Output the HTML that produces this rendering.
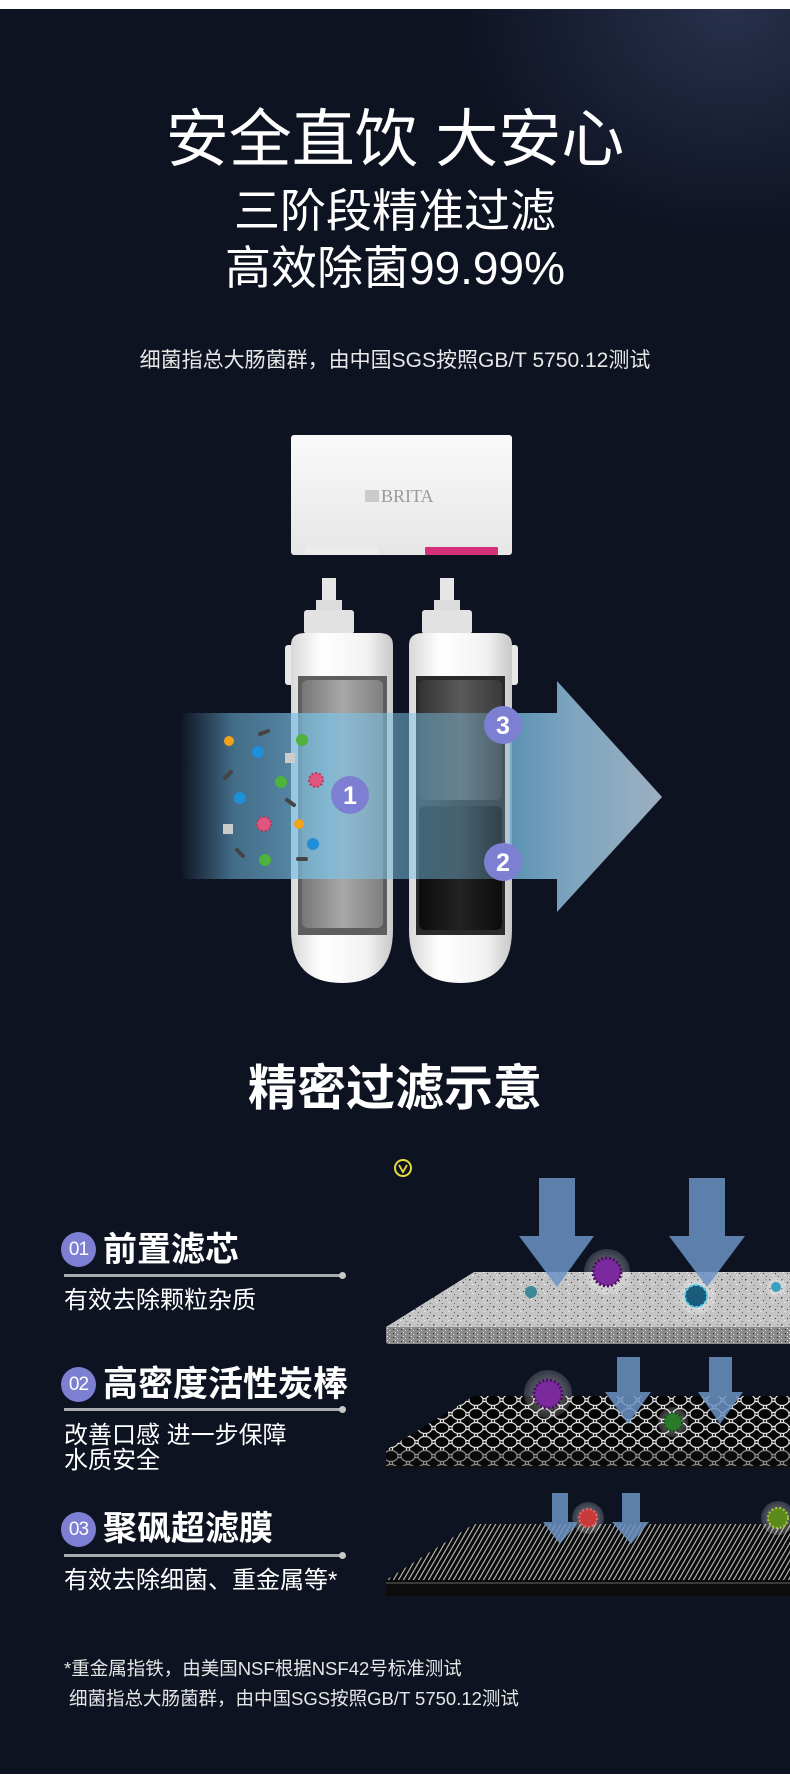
<!DOCTYPE html>
<html><head><meta charset="utf-8">
<style>
*{margin:0;padding:0;box-sizing:border-box}
html,body{width:790px;height:1777px;background:#fff;overflow:hidden}
#bg{position:absolute;left:0;top:9px;width:790px;height:1765px;background:#0e1322;overflow:hidden}
.t{position:absolute;color:#fff;font-family:"Liberation Sans","Noto Sans CJK SC",sans-serif;white-space:nowrap;line-height:1}
.c{left:0;width:790px;text-align:center}
.num{position:absolute;width:35px;height:35px;border-radius:50%;background:#7c7fd2;color:#fff;font-family:"Liberation Sans",sans-serif;font-size:19px;line-height:35px;text-align:center;letter-spacing:-1px}
.ttl{font-weight:bold;font-size:34px}
.sub{font-size:24px}
.ln{position:absolute;left:64px;width:279px;height:3px;background:#a9abb0}
.ln::after{content:"";position:absolute;right:-3px;top:-2px;width:7px;height:7px;border-radius:50%;background:#c8c8c8}
</style></head><body>
<div id="bg">
<div style="position:absolute;left:430px;top:-250px;width:600px;height:500px;background:radial-gradient(ellipse at center,rgba(60,72,110,0.55),rgba(14,19,34,0) 65%)"></div>
</div>
<div class="t c" style="top:109px;font-size:63px">安全直饮 大安心</div>
<div class="t c" style="top:188px;font-size:46px">三阶段精准过滤</div>
<div class="t c" style="top:245px;font-size:46px">高效除菌99.99%</div>
<div class="t c" style="top:350px;font-size:21px;color:#e8e8e8">细菌指总大肠菌群，由中国SGS按照GB/T 5750.12测试</div>

<svg style="position:absolute;left:0;top:0" width="790" height="1777" viewBox="0 0 790 1777">
<defs>
<linearGradient id="box" x1="0" y1="0" x2="0" y2="1"><stop offset="0" stop-color="#fafafa"/><stop offset="1" stop-color="#e6e6e6"/></linearGradient>
<linearGradient id="cyl" x1="0" y1="0" x2="1" y2="0"><stop offset="0" stop-color="#d8d8d8"/><stop offset="0.3" stop-color="#fff"/><stop offset="0.75" stop-color="#f2f2f2"/><stop offset="1" stop-color="#c8c8c8"/></linearGradient>
<linearGradient id="gcore" x1="0" y1="0" x2="1" y2="0"><stop offset="0" stop-color="#777"/><stop offset="0.5" stop-color="#a8a8a8"/><stop offset="1" stop-color="#808080"/></linearGradient>
<linearGradient id="dcore" x1="0" y1="0" x2="1" y2="0"><stop offset="0" stop-color="#333"/><stop offset="0.5" stop-color="#5a5a5a"/><stop offset="1" stop-color="#3a3a3a"/></linearGradient>
<linearGradient id="bcore" x1="0" y1="0" x2="1" y2="0"><stop offset="0" stop-color="#0c0c0c"/><stop offset="0.5" stop-color="#222"/><stop offset="1" stop-color="#0c0c0c"/></linearGradient>
<linearGradient id="band1" x1="0" y1="0" x2="1" y2="0"><stop offset="0" stop-color="#6fb6dc" stop-opacity="0"/><stop offset="0.35" stop-color="#6fb6dc" stop-opacity="0.55"/><stop offset="1" stop-color="#7cc3e6" stop-opacity="0.75"/></linearGradient>
<linearGradient id="band2" x1="0" y1="0" x2="1" y2="0"><stop offset="0" stop-color="#7cc3e6" stop-opacity="0.65"/><stop offset="0.6" stop-color="#7cc3e6" stop-opacity="0.45"/><stop offset="1" stop-color="#7cb0d0" stop-opacity="0.3"/></linearGradient>
<linearGradient id="arr" x1="0" y1="0" x2="1" y2="0"><stop offset="0" stop-color="#6aa8cc" stop-opacity="0.85"/><stop offset="0.4" stop-color="#7da4bf"/><stop offset="1" stop-color="#9db0c0"/></linearGradient>
<pattern id="noise" width="12" height="9" patternUnits="userSpaceOnUse">
<rect width="12" height="9" fill="#c4c4c4"/><rect x="1" y="1" width="1.5" height="1.5" fill="#555"/><rect x="7" y="4" width="1" height="1" fill="#333"/><rect x="4" y="6" width="1.5" height="1" fill="#eee"/><rect x="9" y="1" width="1" height="1" fill="#888"/><rect x="3" y="3" width="1" height="1" fill="#f5f5f5"/><rect x="10" y="7" width="1" height="1" fill="#666"/>
</pattern>
<pattern id="noise2" width="8" height="4" patternUnits="userSpaceOnUse">
<rect width="8" height="4" fill="#8a8a8a"/><rect x="1" y="1" width="1" height="1" fill="#222"/><rect x="5" y="2" width="1" height="1" fill="#ddd"/><rect x="3" y="0" width="1" height="1" fill="#eee"/></pattern>
<pattern id="hex" width="17" height="14" patternUnits="userSpaceOnUse">
<rect width="17" height="14" fill="#222"/><ellipse cx="8.5" cy="7" rx="7" ry="5.5" fill="#050505" stroke="#ddd" stroke-width="1.2"/><ellipse cx="0" cy="0" rx="7" ry="5.5" fill="#050505" stroke="#ddd" stroke-width="1.2"/><ellipse cx="17" cy="0" rx="7" ry="5.5" fill="#050505" stroke="#ddd" stroke-width="1.2"/><ellipse cx="0" cy="14" rx="7" ry="5.5" fill="#050505" stroke="#ddd" stroke-width="1.2"/><ellipse cx="17" cy="14" rx="7" ry="5.5" fill="#050505" stroke="#ddd" stroke-width="1.2"/>
</pattern>
<pattern id="str" width="5" height="10" patternUnits="userSpaceOnUse" patternTransform="skewX(-30)">
<rect width="5" height="10" fill="#0a0a0a"/><rect x="0" width="1.3" height="10" fill="#bbb"/></pattern>
<radialGradient id="halo"><stop offset="0" stop-color="#fff" stop-opacity="0.5"/><stop offset="1" stop-color="#fff" stop-opacity="0.15"/></radialGradient>
</defs>

<!-- BRITA box -->
<rect x="285" y="645" width="8" height="40" rx="3" fill="#e8e8e8"/>
<rect x="510" y="645" width="8" height="40" rx="3" fill="#e8e8e8"/>
<rect x="291" y="435" width="221" height="120" rx="3" fill="url(#box)"/>
<rect x="305" y="547" width="73" height="8" rx="2" fill="#ececec"/>
<rect x="425" y="547" width="73" height="8" rx="1" fill="#d4317a"/>
<rect x="365" y="490" width="14" height="12" fill="#bbb" opacity="0.7"/>
<text x="381" y="502" font-family="Liberation Serif,serif" font-size="18" fill="#9a9a9a">BRITA</text>

<!-- cylinders -->
<g>
<rect x="322" y="578" width="14" height="22" fill="#e6e6e6"/><rect x="316" y="600" width="26" height="10" fill="#dcdcdc"/><rect x="304" y="610" width="50" height="24" rx="3" fill="#e2e2e2"/>
<path d="M291 645 Q291 633 305 633 H379 Q393 633 393 645 V930 Q393 983 342 983 Q291 983 291 930 Z" fill="url(#cyl)"/>
<rect x="298" y="676" width="89" height="259" fill="#5e5e5e"/>
<rect x="302" y="680" width="81" height="248" rx="6" fill="url(#gcore)"/>
</g>
<g>
<rect x="440" y="578" width="14" height="22" fill="#e6e6e6"/><rect x="434" y="600" width="26" height="10" fill="#dcdcdc"/><rect x="422" y="610" width="50" height="24" rx="3" fill="#e2e2e2"/>
<path d="M409 645 Q409 633 423 633 H498 Q512 633 512 645 V930 Q512 983 460 983 Q409 983 409 930 Z" fill="url(#cyl)"/>
<rect x="416" y="676" width="89" height="259" fill="#2a2a2a"/>
<rect x="419" y="680" width="83" height="120" rx="6" fill="url(#dcore)"/>
<rect x="419" y="806" width="83" height="124" rx="6" fill="url(#bcore)"/>
</g>

<!-- flow band + arrow -->
<rect x="180" y="713" width="153" height="166" fill="url(#band1)"/>
<rect x="333" y="713" width="178" height="166" fill="url(#band2)"/>
<path d="M510 713 H557 V681 L662 797 L557 912 V879 H510 Z" fill="url(#arr)"/>

<!-- particles -->
<g>
<circle cx="229" cy="741" r="5" fill="#f4a21a"/><circle cx="299" cy="824" r="5" fill="#f4a21a"/>
<circle cx="258" cy="752" r="6" fill="#1e8fd8"/><circle cx="240" cy="798" r="6" fill="#1e8fd8"/><circle cx="313" cy="844" r="6" fill="#1e8fd8"/>
<circle cx="302" cy="740" r="6" fill="#4db33a"/><circle cx="281" cy="782" r="6" fill="#4db33a"/><circle cx="265" cy="860" r="6" fill="#4db33a"/>
<rect x="285" y="753" width="10" height="10" fill="#ccc"/><rect x="223" y="824" width="10" height="10" fill="#ccc"/>
<circle cx="316" cy="780" r="7" fill="#e1567e" stroke="#b33a5d" stroke-width="2" stroke-dasharray="2 2"/><circle cx="264" cy="824" r="7" fill="#e1567e" stroke="#b33a5d" stroke-width="2" stroke-dasharray="2 2"/>
<g stroke="#444" stroke-width="4" stroke-linecap="round"><path d="M260 734 L268 731"/><path d="M225 778 L231 772"/><path d="M287 800 L294 805"/><path d="M237 850 L243 856"/><path d="M298 859 L306 859"/></g>
</g>

<!-- number circles -->
<g font-family="Liberation Sans,sans-serif" font-weight="bold" font-size="25" fill="#fff" text-anchor="middle">
<circle cx="350" cy="795" r="19" fill="#7c7fd2"/><text x="350" y="804">1</text>
<circle cx="503" cy="725" r="19" fill="#7c7fd2"/><text x="503" y="734">3</text>
<circle cx="503" cy="862" r="19" fill="#7c7fd2"/><text x="503" y="871">2</text>
</g>

<!-- yellow icon -->
<circle cx="403" cy="1168" r="8" fill="none" stroke="#e3dc3a" stroke-width="2"/>
<path d="M399 1165 L403 1172 L407 1165" fill="none" stroke="#e3dc3a" stroke-width="1.8"/>

<!-- layer1 -->
<path d="M386 1327 V1341 Q386 1344 389 1344 H790 V1327 Z" fill="url(#noise2)"/>
<path d="M474 1272 H790 V1327 H386 Z" fill="url(#noise)"/>
<!-- layer2 -->
<path d="M386 1450 V1466 Q386 1468 389 1468 H790 V1450 Z" fill="#111"/>
<path d="M386 1450 V1466 H790 V1450 Z" fill="url(#hex)" opacity="0.6"/>
<path d="M474 1396 H790 V1450 H386 Z" fill="url(#hex)"/>
<!-- layer3 -->
<path d="M386 1580 V1594 Q386 1596 389 1596 H790 V1580 Z" fill="#0c0c0c"/>
<path d="M386 1583 H790" stroke="#666" stroke-width="1"/>
<path d="M474 1524 H790 V1580 H386 Z" fill="url(#str)"/>

<!-- viruses -->
<circle cx="607" cy="1272" r="23" fill="url(#halo)"/><circle cx="607" cy="1272" r="14" fill="#7a2a9c" stroke="#4a1060" stroke-width="3" stroke-dasharray="2 2"/>
<circle cx="531" cy="1292" r="6" fill="#3a8a9a"/>
<circle cx="697" cy="1296" r="19" fill="url(#halo)"/><circle cx="696" cy="1296" r="11" fill="#1a5a7a" stroke="#4ad0f0" stroke-width="2" stroke-dasharray="3 2"/>
<circle cx="776" cy="1287" r="10" fill="url(#halo)"/><circle cx="776" cy="1287" r="5" fill="#3aa0c0"/>
<circle cx="548" cy="1394" r="24" fill="url(#halo)"/><circle cx="548" cy="1394" r="14" fill="#7a2a9c" stroke="#4a1060" stroke-width="3" stroke-dasharray="2 2"/>
<circle cx="673" cy="1422" r="15" fill="url(#halo)"/><circle cx="673" cy="1422" r="9" fill="#2a7a2a" stroke="#1a4a1a" stroke-width="2" stroke-dasharray="2 2"/>
<circle cx="588" cy="1518" r="16" fill="url(#halo)"/><circle cx="588" cy="1518" r="9" fill="#c83a3a" stroke="#f06a6a" stroke-width="2" stroke-dasharray="2 2"/>
<circle cx="778" cy="1518" r="17" fill="url(#halo)"/><circle cx="778" cy="1518" r="10" fill="#5a8a1a" stroke="#aacc3a" stroke-width="2" stroke-dasharray="2 2"/>

<!-- down arrows -->
<g fill="#6b93c4" opacity="0.85">
<path d="M539 1178 H575 V1236 H594 L557 1287 L519 1236 H539 Z"/>
<path d="M689 1178 H725 V1236 H745 L707 1287 L669 1236 H689 Z"/>
<path d="M617 1357 H640 V1392 H651 L628 1424 L605 1392 H617 Z"/>
<path d="M709 1357 H732 V1392 H743 L720 1424 L698 1392 H709 Z"/>
<path d="M552 1493 H568 V1522 H578 L560 1544 L543 1522 H552 Z"/>
<path d="M622 1493 H640 V1522 H649 L631 1544 L612 1522 H622 Z"/>
</g>
</svg>

<div class="t c" style="top:1065px;font-size:49px;font-weight:bold">精密过滤示意</div>

<div class="num" style="left:61px;top:1232px">01</div>
<div class="t ttl" style="left:103px;top:1233px">前置滤芯</div>
<div class="ln" style="top:1274px"></div>
<div class="t sub" style="left:64px;top:1289px">有效去除颗粒杂质</div>

<div class="num" style="left:61px;top:1367px">02</div>
<div class="t ttl" style="left:103px;top:1367px;font-size:35px">高密度活性炭棒</div>
<div class="ln" style="top:1408px"></div>
<div class="t sub" style="left:64px;top:1424px">改善口感 进一步保障</div>
<div class="t sub" style="left:64px;top:1449px">水质安全</div>

<div class="num" style="left:61px;top:1512px">03</div>
<div class="t ttl" style="left:103px;top:1512px">聚砜超滤膜</div>
<div class="ln" style="top:1554px"></div>
<div class="t sub" style="left:64px;top:1569px">有效去除细菌、重金属等*</div>

<div class="t" style="left:64px;top:1660px;font-size:18.5px;color:#e6e6e6">*重金属指铁，由美国NSF根据NSF42号标准测试</div>
<div class="t" style="left:69px;top:1690px;font-size:18.5px;color:#e6e6e6">细菌指总大肠菌群，由中国SGS按照GB/T 5750.12测试</div>
</body></html>
